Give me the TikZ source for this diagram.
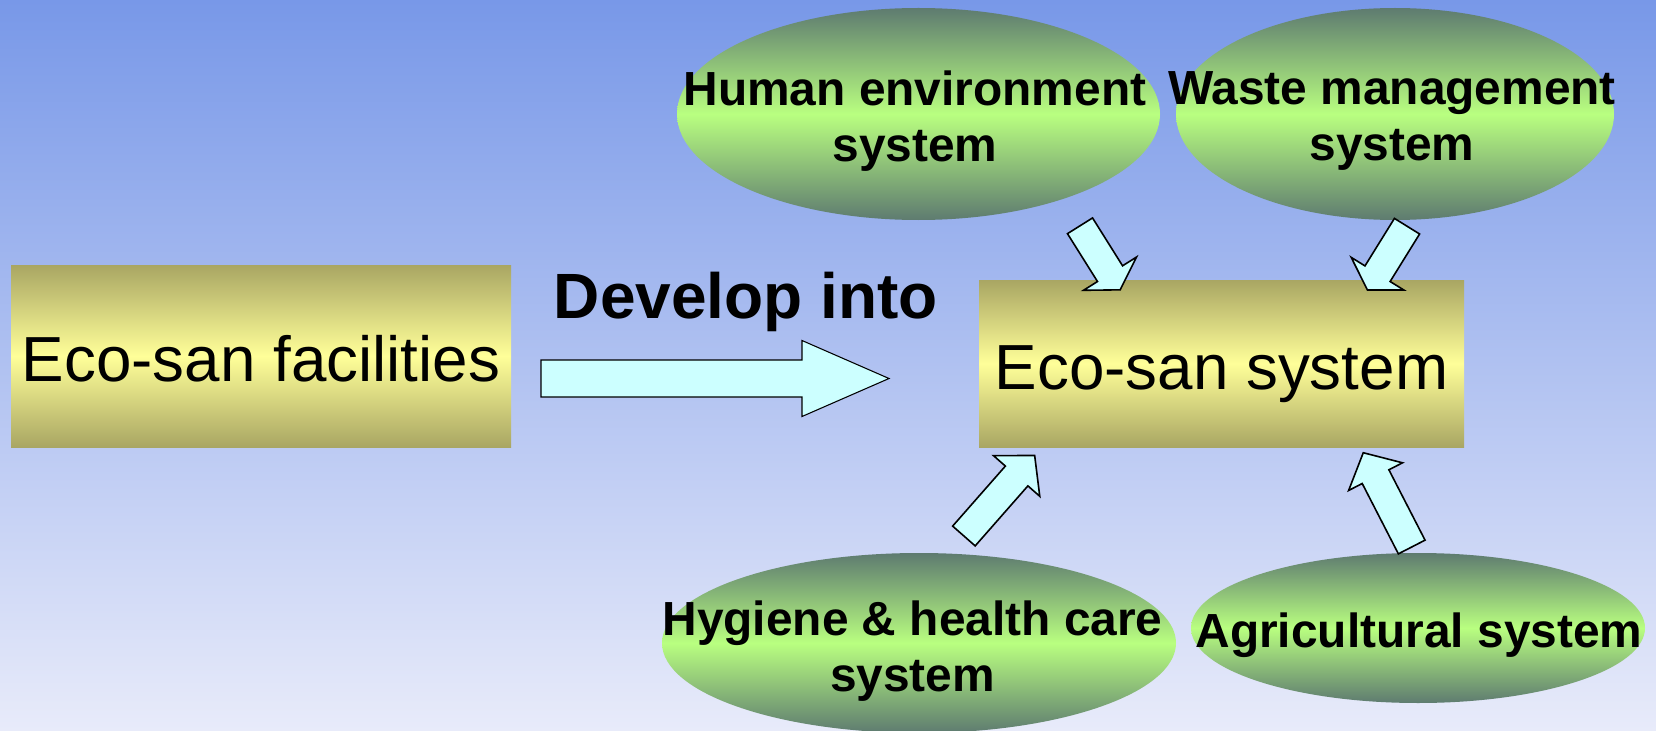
\documentclass[tikz,border=0pt]{standalone}
\usepackage{fontspec}
\setmainfont{Liberation Sans}
\usetikzlibrary{shapes.geometric}
\definecolor{bgtop}{HTML}{7898E8}
\definecolor{bgbot}{HTML}{E8EBFA}
\definecolor{boxedge}{HTML}{A9A663}
\definecolor{boxmid}{HTML}{FFFF99}
\definecolor{elledge}{HTML}{5E7B70}
\definecolor{ellmid}{HTML}{B9FF80}
\definecolor{arrowfill}{HTML}{CCFFFF}
\newcommand{\blockarr}[8]{%
  \draw[#8, shift={(#1,#2)}, rotate=#3] (0,-#6) -- (#4,-#6) -- (#4,-#7) -- ({#4+#5},0) -- (#4,#7) -- (#4,#6) -- (0,#6) -- cycle;}
\tikzset{
  panel/.style={rectangle, inner sep=0pt, top color=boxedge, bottom color=boxedge, middle color=boxmid,
    font=\fontsize{47.8pt}{53pt}\selectfont, text height=38.25pt, text depth=0pt},
  bubble/.style={ellipse, inner sep=0pt, top color=elledge, bottom color=elledge, middle color=ellmid},
  bubbletext/.style={align=center, inner sep=0pt, font=\fontsize{35.9pt}{42pt}\selectfont\bfseries},
  smallarrow/.style={fill=arrowfill, draw=black, line width=1.2pt, line join=miter},
  bigarrow/.style={fill=arrowfill, draw=black, line width=0.8pt, line join=miter}
}
\begin{document}
\begin{tikzpicture}[x=0.75pt, y=-0.75pt]
\useasboundingbox (0,0) rectangle (1656,731);
\clip (0,0) rectangle (1656,731);
\shade[top color=bgtop, bottom color=bgbot] (0,0) rectangle (1656,731);

% ellipses
\node[bubble, minimum width=362.25pt, minimum height=159pt] (hum) at (918.5,114) {};
\node[bubble, minimum width=328.5pt, minimum height=159pt] (waste) at (1395,114) {};
\node[bubble, minimum width=385.5pt, minimum height=135pt] (hyg) at (919,643) {};
\node[bubble, minimum width=340.5pt, minimum height=112.5pt] (agri) at (1418,628) {};

\node[bubbletext] (humt) at (915,121) {Human environment\\system};
\node[bubbletext] (wastet) at (1392,121) {Waste management\\system};
\node[bubbletext] (hygt) at (912.5,651) {Hygiene \& health care\\system};
\node[bubbletext] (agrit) at (1419,635.5) {Agricultural system};

% boxes
\node[panel, minimum width=375pt, minimum height=136.5pt] (fac) at (261,356) {Eco-san facilities};
\node[panel, minimum width=363.75pt, minimum height=125.25pt] (sys) at (1221.5,363.5) {Eco-san system};

\node[anchor=base, inner sep=0pt, font=\fontsize{48pt}{53pt}\selectfont\bfseries] (dev) at (746,318) {Develop into};

% block arrows
\blockarr{541}{378.5}{0}{261}{87}{18.5}{38}{bigarrow}
\blockarr{1080}{225.8}{-57.9}{56.5}{19.1}{14.8}{31.3}{smallarrow}
\blockarr{1407}{226.2}{-121.8}{55.9}{19.2}{14.8}{31}{smallarrow}
\blockarr{963.9}{536}{48.7}{79.9}{27.3}{15}{30.8}{smallarrow}
\blockarr{1411.7}{547}{117.2}{79.1}{26.9}{15}{30.3}{smallarrow}
\end{tikzpicture}
\end{document}
